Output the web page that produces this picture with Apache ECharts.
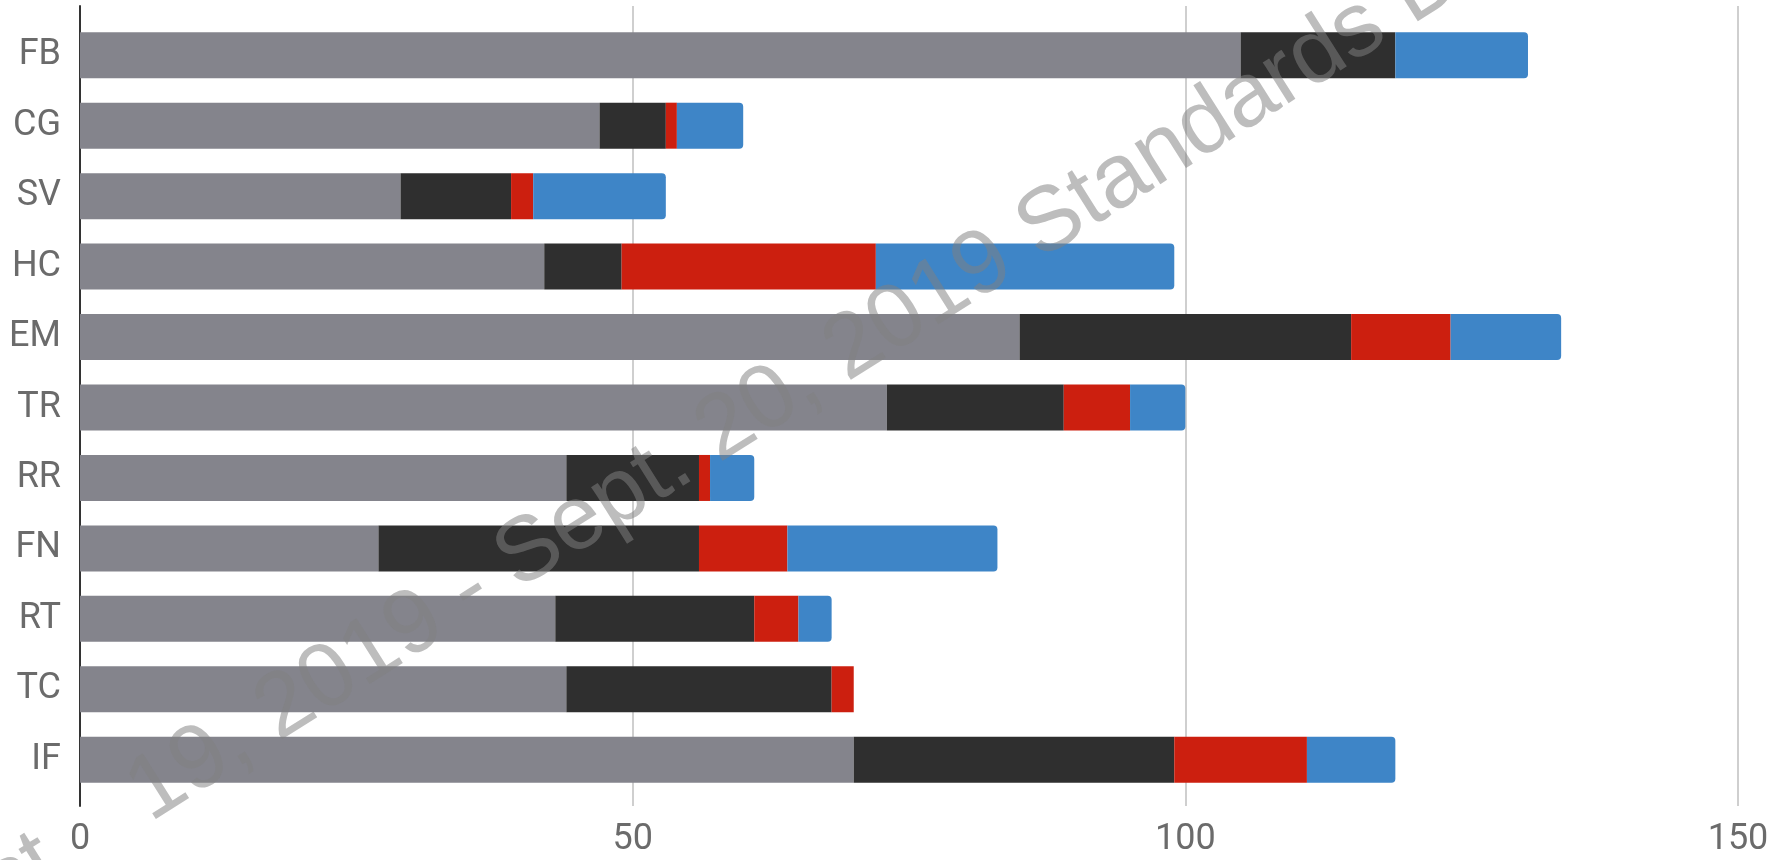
<!DOCTYPE html>
<html>
<head>
<meta charset="utf-8">
<script src="https://cdn.jsdelivr.net/npm/echarts@6/dist/echarts.min.js"></script>
<style>
  html, body { margin: 0; padding: 0; background: #fff; }
  #chart { width: 1781px; height: 860px; }
</style>
</head>
<body>
<div id="chart"></div>
<script>
// Categories, top to bottom
const categories = ['FB', 'CG', 'SV', 'HC', 'EM', 'TR', 'RR', 'FN', 'RT', 'TC', 'IF'];

// Stacked segment values per category
const grayValues  = [105, 47, 29, 42, 85, 73, 44, 27, 43, 44, 70];
const blackValues = [14, 6, 10, 7, 30, 16, 12, 29, 18, 24, 29];
const redValues   = [0, 1, 2, 23, 9, 6, 1, 8, 4, 2, 12];
const blueValues  = [12, 6, 12, 27, 10, 5, 4, 19, 3, 0, 8];

// Value axis ticks
const xTicks = [0, 50, 100, 150];

const watermarkText = 'August    19, 2019 - Sept. 20, 2019 Standards Data';

const chart = echarts.init(document.getElementById('chart'), null, { renderer: 'canvas' });

const labelFont = { fontFamily: 'Roboto', fontSize: 36, color: '#6b6b6b' };

function barSeries(name, data, color, radius) {
  return {
    name: name,
    type: 'bar',
    stack: 'total',
    xAxisIndex: 0,
    yAxisIndex: 0,
    barWidth: 46,
    data: data,
    itemStyle: { color: color, borderRadius: radius || 0 },
    emphasis: { disabled: true }
  };
}

const theta = 32.3 * Math.PI / 180;
// extra leading gap (3 spaces at 91px ≈ 75px) moves the origin back along the baseline
const lead = 75;

chart.setOption({
  animation: false,
  backgroundColor: '#ffffff',
  grid: [
    // bars
    { left: 80, right: 43, top: 20, bottom: 65 },
    // gridlines, axis line and tick labels
    { left: 80, right: 43, top: 6, bottom: 54 }
  ],
  xAxis: [
    { gridIndex: 0, type: 'value', min: xTicks[0], max: xTicks[xTicks.length - 1], interval: 50, show: false },
    {
      gridIndex: 1, type: 'value', min: xTicks[0], max: xTicks[xTicks.length - 1], interval: 50,
      axisLine: { show: false },
      axisTick: { show: false },
      axisLabel: Object.assign({ margin: 16 }, labelFont),
      splitLine: { show: true, lineStyle: { color: '#cfcfcf', width: 2 } }
    }
  ],
  yAxis: [
    {
      gridIndex: 0, type: 'category', data: categories, inverse: true,
      axisLine: { show: false },
      axisTick: { show: false },
      axisLabel: Object.assign({ margin: 19 }, labelFont),
      splitLine: { show: false }
    },
    {
      gridIndex: 1, type: 'value', min: 0, max: 1,
      axisLine: { show: true, onZero: false, lineStyle: { color: '#333333', width: 2 } },
      axisTick: { show: false },
      axisLabel: { show: false },
      splitLine: { show: false }
    }
  ],
  series: [
    barSeries('gray', grayValues, '#84848c'),
    barSeries('black', blackValues, '#2f2f2f'),
    barSeries('red', redValues, '#cc1f0f'),
    barSeries('blue', blueValues, '#3e85c7', [0, 4, 4, 0])
  ],
  graphic: [
    {
      type: 'text',
      x: -125 - lead * Math.cos(theta),
      y: 967 + lead * Math.sin(theta),
      rotation: theta,
      z: 100,
      silent: true,
      style: {
        text: watermarkText,
        font: '91px "Liberation Sans", Arial, sans-serif',
        fill: 'rgba(128,128,128,0.52)',
        textAlign: 'left',
        textVerticalAlign: 'middle'
      }
    }
  ]
});
</script>
</body>
</html>
